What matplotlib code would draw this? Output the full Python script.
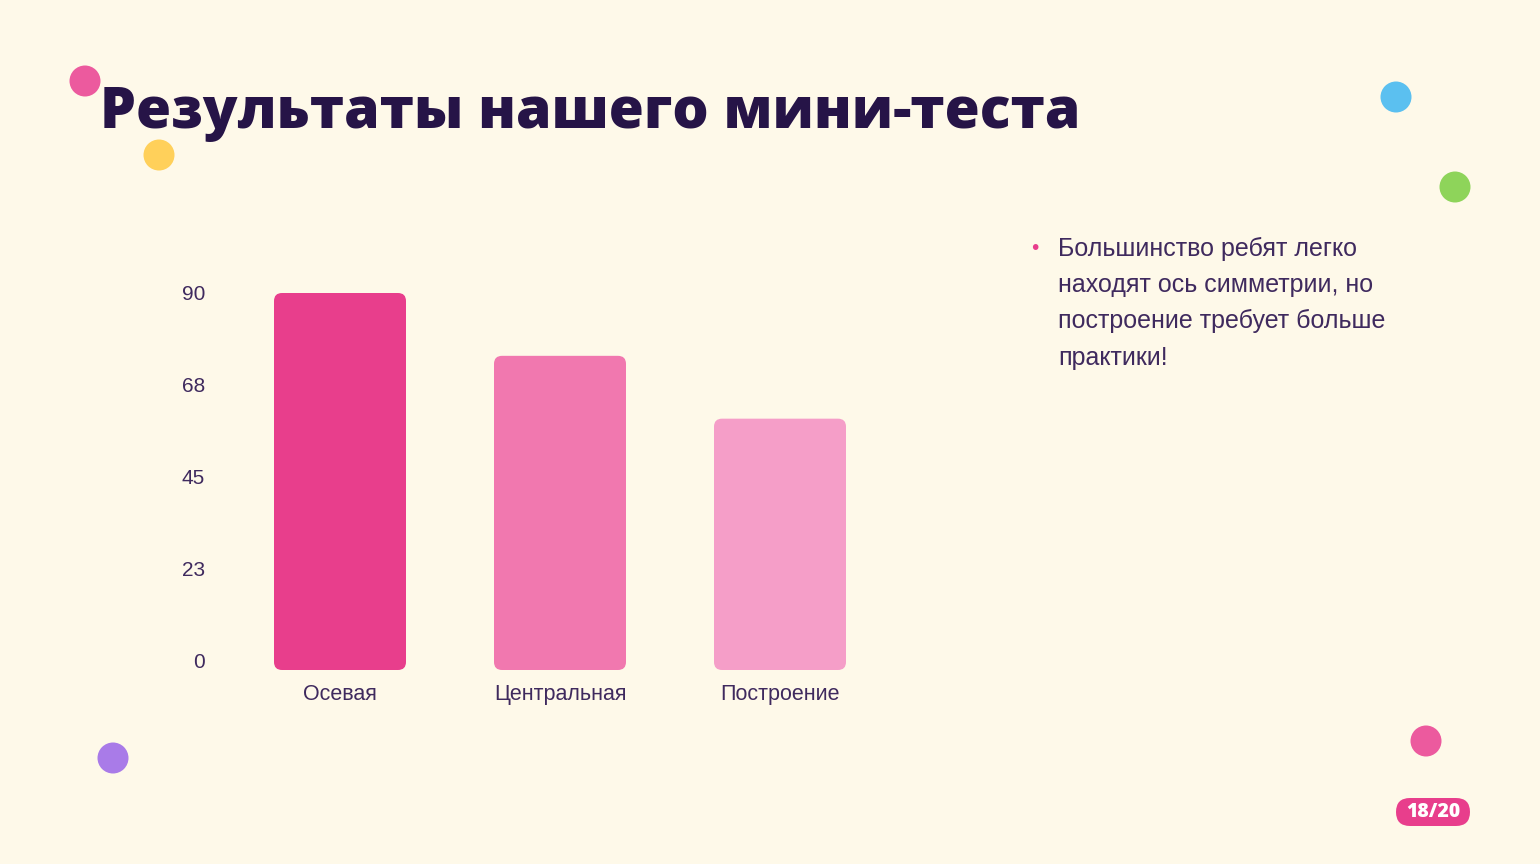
import matplotlib
matplotlib.use("Agg")
import matplotlib.pyplot as plt
from matplotlib.patches import FancyBboxPatch, Circle
from matplotlib.transforms import ScaledTranslation

categories = ["Осевая", "Центральная", "Построение"]
values = [90, 75, 60]
bar_colors = ["#E83E8C", "#F178AF", "#F59EC8"]
ytick_values = [0, 22.5, 45, 67.5, 90]
ytick_labels = ["0", "23", "45", "68", "90"]
title = "Результаты нашего мини-теста"
note = "Большинство ребят легко\nнаходят ось симметрии, но\nпостроение требует больше\nпрактики!"
page = "18/20"

W, H = 1540, 864
BG = "#FEF9E9"
TXT = "#3F2A5E"

fig = plt.figure(figsize=(W / 100, H / 100), dpi=100, facecolor=BG)

# decorative dots in figure pixel coords
dots = [(85, 81, "#EC5A9E"), (159, 155, "#FFD05A"), (1396, 97, "#5BC0F0"),
        (1455, 187, "#8ED45A"), (113, 758, "#A97BE8"), (1426, 741, "#EC5A9E")]
for x, y, c in dots:
    fig.patches.append(Circle((x, H - y), 15.5, transform=None, facecolor=c,
                              edgecolor="none", zorder=0))

# title
fig.text(100 / W, 1 - 114 / H, title, fontsize=41, fontweight=800,
         family=["Open Sans", "DejaVu Sans"], color="#261447", va="center", ha="left")

# axes
ax_left, ax_right = 230, 890
ax_top, ax_bot = 293, 670
ax = fig.add_axes([ax_left / W, 1 - ax_bot / H, (ax_right - ax_left) / W, (ax_bot - ax_top) / H])
ax.set_facecolor("none")
ax.set_xlim(-0.5, len(categories) - 0.5)
ax.set_ylim(0, 90)
for s in ax.spines.values():
    s.set_visible(False)

bars = ax.bar(range(len(categories)), values, width=0.6, color=bar_colors)
# convert bars to rounded rectangles
xpp = 3 / (ax_right - ax_left)
ypp = 90 / (ax_bot - ax_top)
r_px = 8
for b in list(bars):
    x0, y0 = b.get_x(), b.get_y()
    w, h = b.get_width(), b.get_height()
    fc = b.get_facecolor()
    b.remove()
    p = FancyBboxPatch((x0, y0), w, h,
                       boxstyle=f"round,pad=0,rounding_size={r_px * xpp}",
                       mutation_aspect=ypp / xpp, facecolor=fc, edgecolor="none")
    ax.add_patch(p)

ax.set_yticks(ytick_values)
ax.set_yticklabels(ytick_labels)
ax.set_xticks(range(len(categories)))
ax.set_xticklabels(categories)
ax.tick_params(axis="y", length=0, pad=18, labelsize=15, labelcolor=TXT)
ax.tick_params(axis="x", length=0, pad=10, labelsize=15.5, labelcolor=TXT)
for lbl in ax.get_yticklabels() + ax.get_xticklabels():
    lbl.set_family(["Liberation Sans", "DejaVu Sans"])
# the reference's tick labels sit on a slightly compressed ladder
for v, lbl in zip(ytick_values, ax.get_yticklabels()):
    dy = 10 * (1 - v / 90) / 100
    lbl.set_transform(lbl.get_transform() + ScaledTranslation(0, dy, fig.dpi_scale_trans))

# bullet text
fig.text(1035 / W, 1 - 248 / H, "•", fontsize=14, color="#E83E8C",
         va="center", ha="center", family="DejaVu Sans")
fig.text(1058 / W, 1 - 237 / H, note, fontsize=18, color=TXT, va="top", ha="left",
         linespacing=1.64, family=["Liberation Sans", "DejaVu Sans"])

# page badge
bx0, bx1, by0, by1 = 1396, 1470, 798, 826
fig.patches.append(FancyBboxPatch((bx0, H - by1), bx1 - bx0, by1 - by0,
                                  boxstyle="round,pad=0,rounding_size=14", transform=None,
                                  facecolor="#E83E8C", edgecolor="none"))
fig.text((bx0 + bx1) / 2 / W, 1 - 812 / H, page, fontsize=14, fontweight=800,
         color="white", ha="center", va="center", family=["Open Sans", "DejaVu Sans"])

fig.savefig("out.png", dpi=100, facecolor=BG)
